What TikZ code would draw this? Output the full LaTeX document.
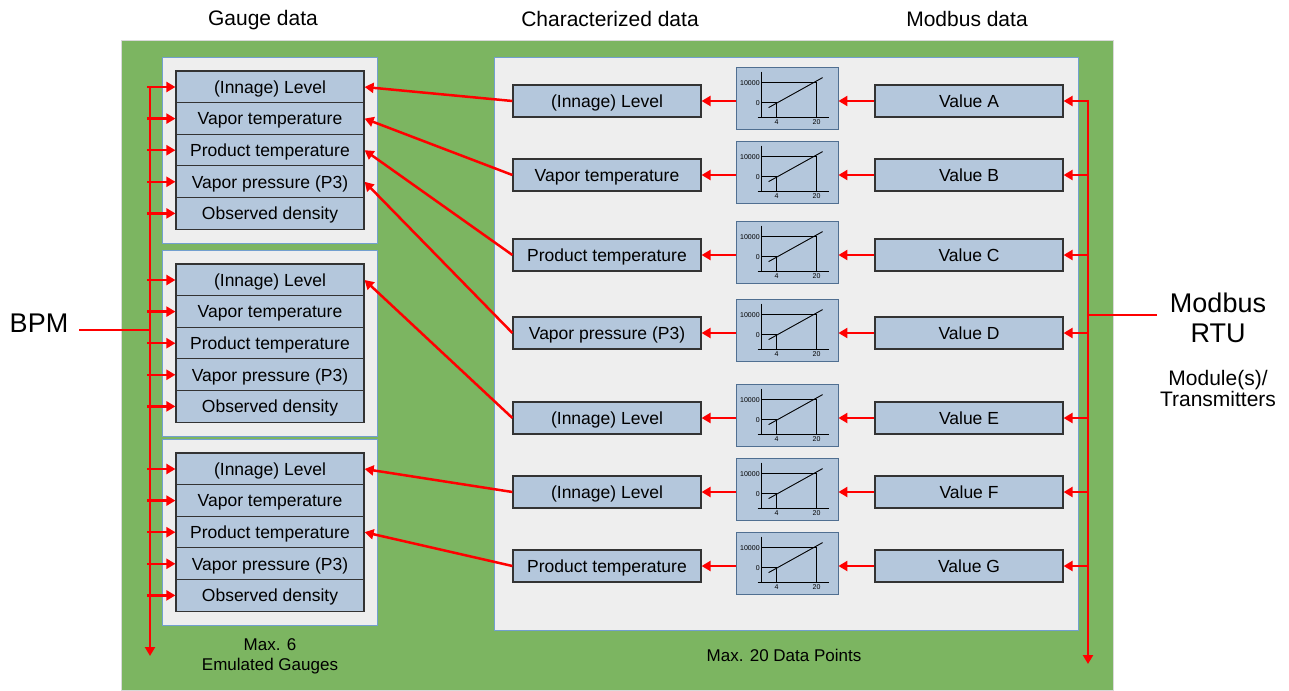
\documentclass[tikz,border=0pt]{standalone}
\usepackage{fontspec}
\setmainfont{Liberation Sans}
\usetikzlibrary{arrows.meta}

\definecolor{bggreen}{RGB}{124,181,97}
\definecolor{panelgrey}{RGB}{238,238,238}
\definecolor{panelline}{RGB}{114,159,207}
\definecolor{boxblue}{RGB}{180,199,220}
\definecolor{boxline}{RGB}{51,51,51}

\tikzset{
	panel/.style={draw=panelline, fill=panelgrey, line width=0.8pt},
	databox/.style={draw=boxline, fill=boxblue, line width=1.2pt, minimum width=188pt, minimum height=32pt, inner sep=0pt, text height=16.5pt, text depth=4pt, font=\fontsize{17.5}{20}\selectfont},
	chartbox/.style={draw=panelline!70!black, fill=boxblue, line width=0.8pt, minimum width=102pt, minimum height=62pt, inner sep=0pt},
	redline/.style={draw=red, line width=2.5pt},
	redarrow/.style={redline, -{Triangle[length=9pt,width=10pt]}},
	heading/.style={font=\fontsize{21}{23}\selectfont},
	note/.style={font=\fontsize{17}{20}\selectfont, align=center}
}

\begin{document}
\begin{tikzpicture}[x=1pt,y=-1pt]
	\useasboundingbox (0,0) rectangle (1289,690);
	\filldraw[fill=bggreen, draw=black!15] (121,40) rectangle (1113,690);
	
	\node[heading] (gaugehead) at (263,20) {Gauge data};
	\node[heading] (charhead) at (610,19) {Characterized data};
	\node[heading] (modhead) at (967,19) {Modbus data};
	
	% emulated gauges
	\foreach \g/\y in {1/87,2/280,3/469} {
		\draw[panel] (162,\y-30) rectangle (377,\y+156);
		\foreach \r/\txt in {1/{(Innage) Level},2/{Vapor temperature},3/{Product temperature},4/{Vapor pressure (P3)},5/{Observed density}}
			\node[databox] (g\g-\r) at (270,\y+31.6*\r-31.6) {\txt};
	}
	\node[note] (gaugemax) at (270,656) {Max. 6\\Emulated Gauges};
	
	% BPM side
	\coordinate (bpmbus) at (150,87);
	\coordinate (bpmend) at (150,656);
	\coordinate (bpmin) at (79,330);
	\node[font=\fontsize{27}{30}\selectfont] (bpm) at (39,323) {BPM};
	\draw[redline, line width=2pt] (bpmin) -- (bpmin -| bpmbus);
	\draw[redarrow] (bpmbus) -- (bpmend);
	\foreach \g in {1,2,3}
		\foreach \r in {1,...,5}
			\draw[redarrow] ([xshift=-3pt]bpmbus |- g\g-\r.west) -- (g\g-\r.west);
	
	% data points
	\draw[panel] (494,57) rectangle (1078,630);
	\node[note] (datamax) at (784,655) {Max. 20 Data Points};
	\coordinate (rtubus) at (1088,100);
	\coordinate (rtuend) at (1088,664);
	\coordinate (rtuin) at (1157,315);
	\foreach \i/\y/\txt/\v in {1/101/{(Innage) Level}/A,2/175/{Vapor temperature}/B,3/255/{Product temperature}/C,4/333/{Vapor pressure (P3)}/D,5/418/{(Innage) Level}/E,6/492/{(Innage) Level}/F,7/566/{Product temperature}/G} {
		\node[databox] (chr\i) at (607,\y) {\txt};
		\node[chartbox] (chart\i) at (787,\y-3) {};
		\node[databox] (val\i) at (969,\y) {Value \v};
		\begin{scope}[shift={(chart\i.north west)}, line width=0.9pt]
			\draw (26,5) -- (26,51);
			\draw (22,51) -- (93,51);
			\draw (26,16) -- (81,16) -- (81,51);
			\draw (26,36) -- (41,36) -- (41,51);
			\draw (33,41) -- (87,11);
			\node[font=\fontsize{7}{8}\selectfont, anchor=east, inner sep=0.5pt] at (25,16) {10000};
			\node[font=\fontsize{7}{8}\selectfont, anchor=east, inner sep=0.5pt] at (25,36) {0};
			\node[font=\fontsize{7}{8}\selectfont, anchor=north, inner sep=0.5pt] at (41,52) {4};
			\node[font=\fontsize{7}{8}\selectfont, anchor=north, inner sep=0.5pt] at (81,52) {20};
		\end{scope}
		\draw[redarrow] (val\i.west) -- (val\i.west -| chart\i.east);
		\draw[redarrow] (chart\i.west |- chr\i.east) -- (chr\i.east);
		\draw[redarrow] (rtubus |- val\i.east) -- (val\i.east);
	}
	\draw[redarrow] (rtubus) -- (rtuend);
	\draw[redline, line width=2pt] (rtuin) -- (rtuin -| rtubus);
	\node[font=\fontsize{27}{30}\selectfont, align=center] (rtu) at (1218,318) {Modbus\\RTU};
	\node[font=\fontsize{21}{21}\selectfont, align=center] (modules) at (1218,388) {Module(s)/\\Transmitters};
	
	% characterized data to gauges
	\draw[redarrow] (chr1.west) -- (g1-1.east);
	\draw[redarrow] (chr2.west) -- (g1-2.east);
	\draw[redarrow] (chr3.west) -- (g1-3.east);
	\draw[redarrow] (chr4.west) -- (g1-4.east);
	\draw[redarrow] (chr5.west) -- (g2-1.east);
	\draw[redarrow] (chr6.west) -- (g3-1.east);
	\draw[redarrow] (chr7.west) -- (g3-3.east);
\end{tikzpicture}
\end{document}
